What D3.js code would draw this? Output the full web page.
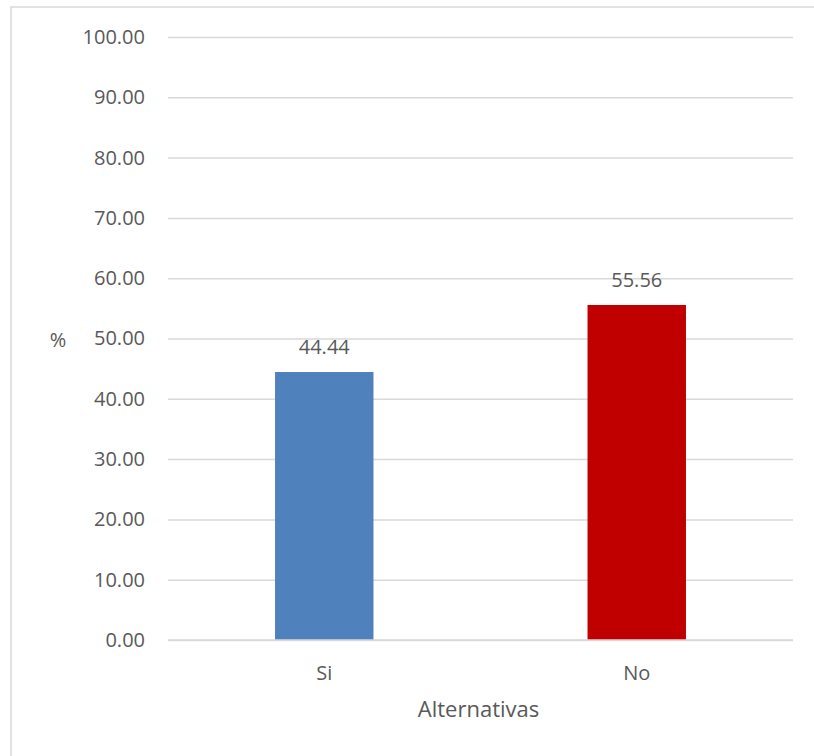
<!DOCTYPE html>
<html><head><meta charset="utf-8">
<script src="https://cdn.jsdelivr.net/npm/d3@7"></script>
<style>body{margin:0;background:#fff}svg{display:block}</style>
</head><body>
<svg id="c" width="814" height="756"></svg>
<script>
const categories = ["Si", "No"];
const values = [44.44, 55.56];
const colors = ["#4f81bd", "#c00000"];
const yTicks = [0,10,20,30,40,50,60,70,80,90,100];
const yLabel = "%";
const xLabel = "Alternativas";

const svg = d3.select("#c");
const font = "'Open Sans', 'Noto Sans', sans-serif";
const textColor = "#595959";

// chart border (extends past right/bottom edges)
svg.append("rect").attr("x",11).attr("y",7).attr("width",820).attr("height",760)
  .attr("fill","none").attr("stroke","#d9d9d9").attr("stroke-width",1.5);

const pL = 168, pR = 793, pT = 37, pB = 640;
const y = d3.scaleLinear().domain([0,100]).range([pB, pT]);
const x = d3.scaleBand().domain(categories).range([pL, pR]).paddingInner(0.685).paddingOuter(0.3425);

const yAxis = d3.axisLeft(y).tickValues(yTicks).tickSize(-(pR-pL)).tickPadding(23).tickFormat(d3.format(".2f"));
const gy = svg.append("g").attr("transform",`translate(${pL},0)`).call(yAxis);
gy.select(".domain").remove();
gy.selectAll(".tick line").attr("stroke","#d9d9d9").attr("stroke-width",1.5);
gy.selectAll(".tick text").attr("fill",textColor).style("font-family",font).style("font-size","20px");

svg.append("g").selectAll("rect").data(values).join("rect")
  .attr("x",(d,i)=>x(categories[i])).attr("width",x.bandwidth())
  .attr("y",d=>y(d)).attr("height",d=>pB-y(d)).attr("fill",(d,i)=>colors[i]);

svg.append("g").selectAll("text").data(values).join("text")
  .attr("x",(d,i)=>x(categories[i])+x.bandwidth()/2).attr("y",d=>y(d)-18)
  .attr("text-anchor","middle").attr("fill",textColor).style("font-family",font).style("font-size","20px")
  .text(d=>d.toFixed(2));

const xAxis = d3.axisBottom(x).tickSize(0).tickPadding(0);
const gx = svg.append("g").attr("transform",`translate(0,${pB})`).call(xAxis);
gx.select(".domain").attr("stroke","#d9d9d9").attr("stroke-width",1.5).attr("d",`M${pL},0H${pR}`);
gx.selectAll(".tick text").attr("dy",null).attr("y",40).attr("fill",textColor).style("font-family",font).style("font-size","20px");

svg.append("text").attr("x",(pL+pR)/2-2).attr("y",717).attr("text-anchor","middle")
  .attr("fill",textColor).style("font-family",font).style("font-size","22px").text(xLabel);
svg.append("text").attr("x",58).attr("y",347).attr("text-anchor","middle")
  .attr("fill",textColor).style("font-family",font).style("font-size","20px").text(yLabel);
</script>
</body></html>
